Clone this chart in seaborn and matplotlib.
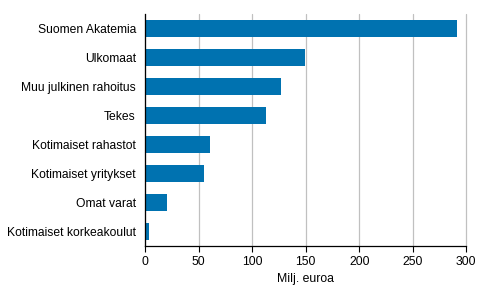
import matplotlib
matplotlib.use("Agg")
import matplotlib.pyplot as plt
import seaborn as sns
import pandas as pd

categories = ["Suomen Akatemia", "Ulkomaat", "Muu julkinen rahoitus", "Tekes",
              "Kotimaiset rahastot", "Kotimaiset yritykset", "Omat varat",
              "Kotimaiset korkeakoulut"]
values = [291, 149, 127, 113, 60.5, 55, 21, 4]
xticks = [0, 50, 100, 150, 200, 250, 300]
xlabel = "Milj. euroa"

sns.set_theme(style="white")
plt.rcParams['font.family'] = ['Liberation Sans', 'DejaVu Sans']

df = pd.DataFrame({"cat": categories, "val": values})

fig = plt.figure(figsize=(4.91, 3.02), dpi=100)
ax = fig.add_axes([0.2953, 0.1854, 0.6544, 0.7682])
sns.barplot(data=df, x="val", y="cat", orient="h", color="#0072b0",
            saturation=1, width=0.61, linewidth=0, ax=ax)
ax.set_xlim(0, 300)
ax.set_xticks(xticks)
ax.set_xticklabels([str(t) for t in xticks], fontsize=8.8, color="black")
ax.tick_params(axis="y", labelsize=8.7, labelcolor="black", length=0, pad=6.5)
ax.tick_params(axis="x", length=4, width=0.8, color="black", direction="out", pad=3, bottom=True)
ax.set_xlabel(xlabel, fontsize=8.8, color="black", labelpad=4)
ax.set_ylabel("")
ax.grid(axis="x", color="#c0c0c0", linewidth=0.9)
ax.grid(axis="y", visible=False)
for gl in ax.xaxis.get_gridlines():
    gl.set_clip_on(False)
ax.set_axisbelow(True)
for s in ["top", "right"]:
    ax.spines[s].set_visible(False)
for s in ["left", "bottom"]:
    ax.spines[s].set_visible(True)
    ax.spines[s].set_color("black")
    ax.spines[s].set_linewidth(0.9)
fig.savefig("out.png", dpi=100)
